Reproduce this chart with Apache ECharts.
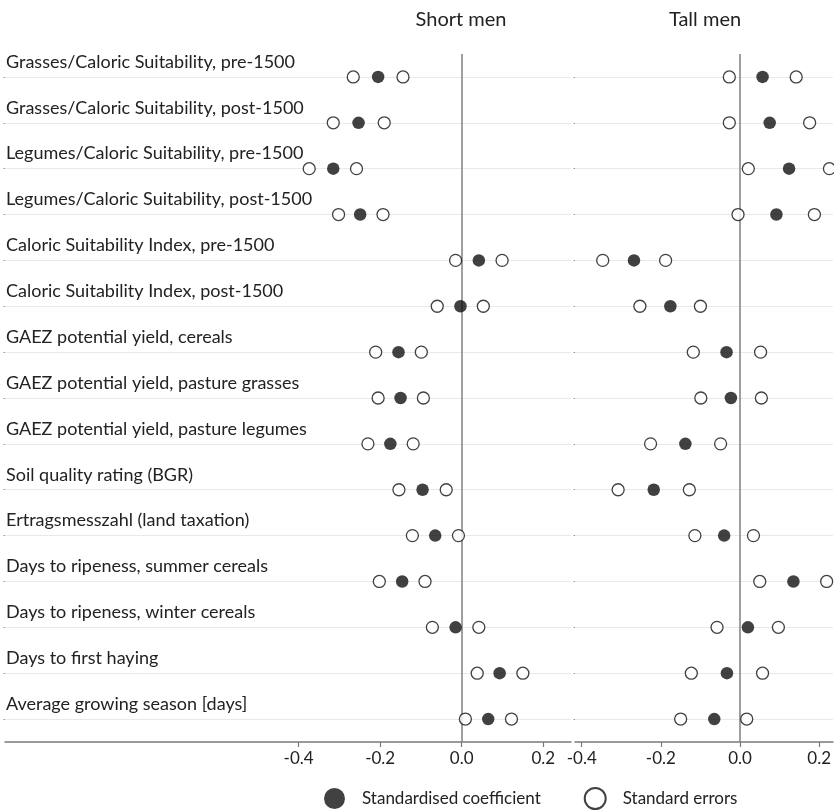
<!DOCTYPE html>
<html>
<head>
<meta charset="utf-8">
<script src="https://cdn.jsdelivr.net/npm/echarts@6/dist/echarts.min.js"></script>
<style>
  html, body { margin: 0; padding: 0; background: #fff; }
  #chart { width: 834px; height: 810px; }
</style>
</head>
<body>
<div id="chart"></div>
<script>
// Outcome rows, top to bottom
const categories = [
  'Grasses/Caloric Suitability, pre-1500',
  'Grasses/Caloric Suitability, post-1500',
  'Legumes/Caloric Suitability, pre-1500',
  'Legumes/Caloric Suitability, post-1500',
  'Caloric Suitability Index, pre-1500',
  'Caloric Suitability Index, post-1500',
  'GAEZ potential yield, cereals',
  'GAEZ potential yield, pasture grasses',
  'GAEZ potential yield, pasture legumes',
  'Soil quality rating (BGR)',
  'Ertragsmesszahl (land taxation)',
  'Days to ripeness, summer cereals',
  'Days to ripeness, winter cereals',
  'Days to first haying',
  'Average growing season [days]'
];

// Short men: coefficient and the two standard-error markers
const shortCoef = [-0.205, -0.253, -0.315, -0.249, 0.042, -0.003, -0.155, -0.150, -0.175, -0.096, -0.065, -0.146, -0.015, 0.093, 0.065];
const shortLow  = [-0.266, -0.315, -0.374, -0.302, -0.015, -0.060, -0.211, -0.205, -0.230, -0.154, -0.121, -0.202, -0.072, 0.038, 0.009];
const shortHigh = [-0.144, -0.190, -0.258, -0.193, 0.099, 0.053, -0.099, -0.094, -0.119, -0.038, -0.008, -0.090, 0.042, 0.150, 0.122];

// Tall men
const tallCoef = [0.057, 0.075, 0.124, 0.092, -0.268, -0.176, -0.034, -0.023, -0.138, -0.218, -0.040, 0.135, 0.020, -0.033, -0.065];
const tallLow  = [-0.027, -0.027, 0.021, -0.005, -0.347, -0.253, -0.118, -0.099, -0.226, -0.308, -0.114, 0.050, -0.058, -0.123, -0.150];
const tallHigh = [0.142, 0.176, 0.226, 0.188, -0.188, -0.100, 0.052, 0.054, -0.049, -0.128, 0.034, 0.219, 0.097, 0.057, 0.017];

const xTicks = [-0.4, -0.2, 0, 0.2];
const panelTitles = ['Short men', 'Tall men'];
const coefName = 'Standardised coefficient';
const seName = 'Standard errors';

const FONT = 'Lato, "Noto Sans", sans-serif';
const rowValues = categories.map((c, i) => i + 1);
const toPoints = arr => arr.map((v, i) => [v, i + 1]);

function xAxisFor(gridIndex, min, max) {
  return {
    type: 'value', gridIndex, min, max,
    axisLine: { show: true, onZero: false, lineStyle: { color: '#7a7a7a', width: 1.5 } },
    axisTick: { show: true, length: 5, customValues: xTicks, lineStyle: { color: '#7a7a7a', width: 1.2 } },
    axisLabel: {
      customValues: xTicks, margin: 8, color: '#222', fontSize: 17, fontFamily: FONT,
      formatter: v => v.toFixed(1)
    },
    splitLine: { show: false }
  };
}

function yAxisFor(gridIndex, showLabels) {
  return {
    type: 'value', gridIndex, min: 0.5, max: 15.5, inverse: true,
    axisLine: { show: false, onZero: false },
    axisTick: { show: true, length: 1.5, customValues: rowValues, lineStyle: { color: '#999' } },
    axisLabel: {
      show: showLabels, inside: true, margin: 1, customValues: rowValues,
      color: '#222', fontSize: 18, fontFamily: FONT, align: 'left',
      verticalAlign: 'bottom', padding: [0, 0, 6, 0],
      formatter: v => categories[Math.round(v) - 1] || ''
    },
    splitLine: { show: true, lineStyle: { color: '#e9e9e9', width: 1.2 } }
  };
}

function panelSeries(idx, coef, low, high) {
  const openStyle = { color: '#fff', borderColor: '#111', borderWidth: 1.3 };
  return [
    {
      name: seName, type: 'scatter', xAxisIndex: idx, yAxisIndex: idx,
      symbol: 'circle', symbolSize: 12, itemStyle: openStyle, clip: false,
      data: toPoints(low), z: 3
    },
    {
      name: seName, type: 'scatter', xAxisIndex: idx, yAxisIndex: idx,
      symbol: 'circle', symbolSize: 12, itemStyle: openStyle, clip: false,
      data: toPoints(high), z: 3
    },
    {
      name: coefName, type: 'scatter', xAxisIndex: idx, yAxisIndex: idx,
      symbol: 'circle', symbolSize: 12.5, itemStyle: { color: '#111' }, clip: false,
      data: toPoints(coef), z: 4,
      markLine: {
        silent: true, symbol: 'none', label: { show: false }, z: 2,
        lineStyle: { color: '#888', width: 1.6, type: 'solid' },
        data: [{ xAxis: 0 }]
      }
    }
  ];
}

const chart = echarts.init(document.getElementById('chart'), null, { renderer: 'canvas' });
chart.setOption({
  backgroundColor: '#fff',
  animation: false,
  textStyle: { fontFamily: FONT },
  grid: [
    { left: 5, right: 263, top: 54, bottom: 68 },
    { left: 575, right: 0, top: 54, bottom: 68 }
  ],
  xAxis: [xAxisFor(0, -1.12, 0.268), xAxisFor(1, -0.417, 0.235)],
  yAxis: [yAxisFor(0, true), yAxisFor(1, false)],
  graphic: [
    { type: 'text', x: 461, y: 20, style: { text: panelTitles[0], fontSize: 20, fontFamily: FONT, fill: '#222', align: 'center', verticalAlign: 'middle' } },
    { type: 'text', x: 705, y: 20, style: { text: panelTitles[1], fontSize: 20, fontFamily: FONT, fill: '#222', align: 'center', verticalAlign: 'middle' } }
  ],
  legend: {
    left: 324, top: 787, padding: 0, itemWidth: 21, itemHeight: 21, itemGap: 43,
    textStyle: { fontSize: 17, fontFamily: FONT, color: '#222', padding: [0, 0, 0, 12] },
    data: [
      { name: coefName, icon: 'circle', itemStyle: { color: '#111' } },
      { name: seName, icon: 'circle', itemStyle: { color: '#fff', borderColor: '#111', borderWidth: 2 } }
    ]
  },
  series: [
    ...panelSeries(0, shortCoef, shortLow, shortHigh),
    ...panelSeries(1, tallCoef, tallLow, tallHigh)
  ]
});
</script>
</body>
</html>
